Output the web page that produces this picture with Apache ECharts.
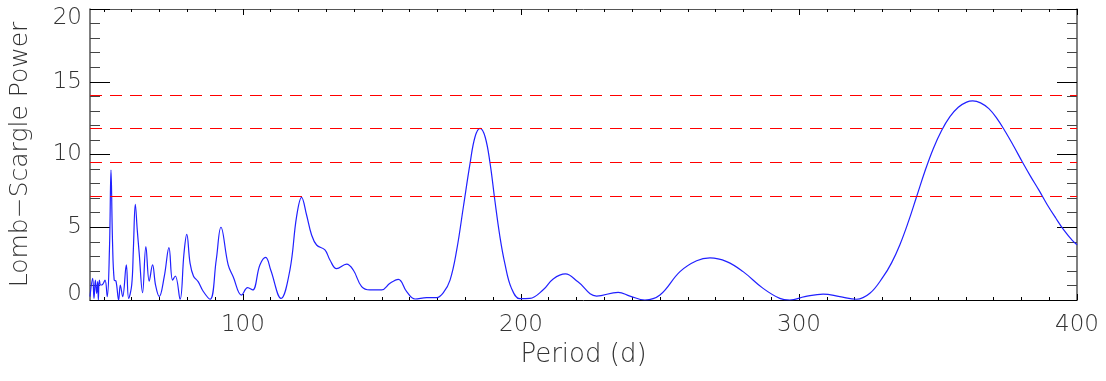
<!DOCTYPE html>
<html>
<head>
<meta charset="utf-8">
<script src="https://cdn.jsdelivr.net/npm/echarts@6/dist/echarts.min.js"></script>
<style>html,body{margin:0;padding:0;background:#fff}#c{width:1106px;height:381px}</style>
</head>
<body>
<div id="c"></div>
<script>
const periods = [45.0,45.96,46.44,46.92,47.4,47.76,48.0,48.36,48.84,49.56,50.4,51.2,52.0,52.55,53.1,53.7,54.35,55.3,55.9,56.75,58.06,58.9,60.0,60.6,61.3,62.0,62.7,63.9,65.1,66.3,67.5,68.6,69.9,71.7,73.4,74.7,75.7,77.4,78.8,79.8,81.0,82.2,83.9,85.7,88.2,90.4,92.1,94.7,96.5,99.5,101.7,103.5,106.1,108.2,110.0,113.7,116.9,119.3,121.1,122.9,124.7,126.5,129.5,131.3,133.7,137.3,139.7,142.7,145.7,149.9,152.9,155.9,158.9,161.9,166.1,169.7,172.1,174.5,176.9,179.3,181.7,183.5,185.3,187.1,188.9,190.6,192.4,194.2,196.6,199.6,203.2,208.0,211.6,216.0,220.5,227.2,235.0,239.2,244.6,250.0,257.2,263.2,268.0,274.0,279.9,287.1,293.1,296.7,302.1,308.7,314.7,320.7,325.5,330.3,333.3,336.3,339.3,342.3,345.3,348.3,351.3,354.3,357.3,360.3,362.5,365.3,368.3,371.3,374.3,377.3,380.3,383.3,386.3,389.3,392.3,395.3,398.3,400.0];
const power = [0.23,1.49,0.11,1.37,0.46,1.26,0.0,1.37,1.03,1.08,1.37,0.23,3.5,8.93,4.0,1.37,1.3,0.0,1.03,0.23,2.41,0.11,1.03,3.5,6.57,4.8,3.2,0.5,3.67,1.3,2.41,1.0,0.23,1.6,3.6,1.37,1.65,0.05,3.2,4.51,2.52,1.65,1.26,0.6,0.05,2.75,5.0,2.41,1.6,0.34,0.85,0.69,2.4,2.93,2.06,0.11,2.06,5.73,7.06,5.84,4.47,3.78,3.44,2.75,2.15,2.47,2.06,0.92,0.69,0.69,1.15,1.42,0.57,0.07,0.16,0.16,0.5,1.37,3.44,6.41,9.39,11.22,11.8,11.22,9.39,6.87,4.4,2.52,0.8,0.09,0.11,0.7,1.45,1.79,1.25,0.27,0.53,0.27,0.0,0.34,1.95,2.7,2.89,2.64,1.95,0.8,0.11,0.0,0.23,0.41,0.23,0.05,0.46,1.6,2.55,3.8,5.35,7.1,8.85,10.4,11.65,12.6,13.25,13.6,13.68,13.55,13.15,12.45,11.55,10.55,9.5,8.5,7.55,6.55,5.65,4.8,4.1,3.8];
const thresholds = [14.04, 11.8, 9.46, 7.1];
const xMajor = [100, 200, 300, 400];
const xMinor = [];
for (let v = 50; v < 400; v += 10) if (v % 100 !== 0) xMinor.push(v);
const xTitle = 'Period (d)';
const yTitle = 'Lomb\u2212Scargle Power';

const FONT = 'DejaVu Sans';
const FW = 200;
const TXT = '#333';
const chart = echarts.init(document.getElementById('c'), null, {renderer: 'canvas'});
const baseX = {type: 'value', min: 45, max: 400, splitLine: {show: false}, axisLabel: {show: false}};
const lab = {fontFamily: FONT, fontWeight: FW, fontSize: 23, color: TXT};
chart.setOption({
  animation: false,
  backgroundColor: '#fff',
  grid: {left: 90, right: 29, top: 9, bottom: 81, containLabel: false},
  xAxis: [
    Object.assign({}, baseX, {position: 'bottom', name: xTitle, nameLocation: 'middle', nameGap: 40,
      nameTextStyle: {fontFamily: FONT, fontWeight: FW, fontSize: 26, color: TXT},
      axisLine: {show: true, lineStyle: {color: '#000', width: 1}},
      axisTick: {show: true, inside: true, length: 6, customValues: xMajor, lineStyle: {color: '#000'}},
      axisLabel: Object.assign({show: true, customValues: xMajor, margin: 14}, lab)}),
    Object.assign({}, baseX, {position: 'bottom',
      axisLine: {show: false},
      axisTick: {show: true, inside: true, length: 3, customValues: xMinor, lineStyle: {color: '#000'}}}),
    Object.assign({}, baseX, {position: 'top',
      axisLine: {show: true, lineStyle: {color: '#555', width: 1}},
      axisTick: {show: true, inside: true, length: 6, customValues: xMajor, lineStyle: {color: '#000'}}}),
    Object.assign({}, baseX, {position: 'top',
      axisLine: {show: false},
      axisTick: {show: true, inside: true, length: 3, customValues: xMinor, lineStyle: {color: '#000'}}})
  ],
  yAxis: [
    {type: 'value', min: 0, max: 20, interval: 5, position: 'left', splitLine: {show: false},
      name: yTitle, nameLocation: 'middle', nameGap: 57,
      nameTextStyle: {fontFamily: FONT, fontWeight: FW, fontSize: 25, color: TXT},
      axisLine: {show: true, lineStyle: {color: '#555', width: 1.5}},
      axisTick: {show: true, inside: true, length: 20, lineStyle: {color: '#000'}},
      minorTick: {show: true, splitNumber: 5, length: 10, lineStyle: {color: '#444'}},
      axisLabel: Object.assign({show: true, margin: 8,
        formatter: v => v === 0 ? '{lo|0}' : (v === 20 ? '{hi|20}' : '{n|' + v + '}'),
        rich: {
          lo: Object.assign({padding: [0, 0, 12, 0]}, lab),
          hi: Object.assign({padding: [18, 0, 0, 0]}, lab),
          n: Object.assign({}, lab)
        }}, lab)},
    {type: 'value', min: 0, max: 20, interval: 5, position: 'right', splitLine: {show: false},
      axisLine: {show: true, lineStyle: {color: '#555', width: 1.5}},
      axisTick: {show: true, inside: true, length: 20, lineStyle: {color: '#000'}},
      minorTick: {show: true, splitNumber: 5, length: 10, lineStyle: {color: '#444'}},
      axisLabel: {show: false}}
  ],
  series: [{
    type: 'line',
    xAxisIndex: 0, yAxisIndex: 0,
    data: periods.map((p, i) => [p, power[i]]),
    showSymbol: false,
    smooth: 0.4,
    clip: true,
    lineStyle: {color: '#2020ff', width: 1.2},
    markLine: {
      silent: true, symbol: 'none', label: {show: false},
      lineStyle: {color: '#ff0000', width: 1, type: [12, 8]},
      data: thresholds.map(v => ({yAxis: v}))
    }
  }]
});
</script>
</body>
</html>
